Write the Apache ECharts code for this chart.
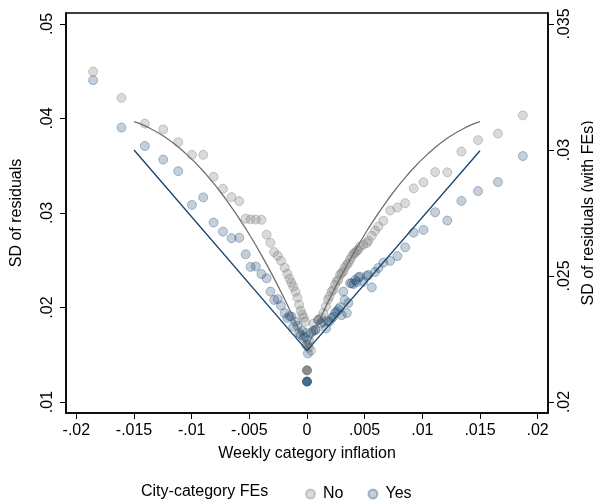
<!DOCTYPE html>
<html>
<head>
<meta charset="utf-8">
<script src="https://cdn.jsdelivr.net/npm/echarts@6/dist/echarts.min.js"></script>
<style>
  html, body { margin: 0; padding: 0; background: #fff; }
  #chart { width: 593px; height: 504px; }
</style>
</head>
<body>
<div id="chart"></div>
<script>
// Binned weekly category inflation
const inflation = [
  -0.01855, -0.01609, -0.01406, -0.01247, -0.01117, -0.00998, -0.00900, -0.00810,
  -0.00729, -0.00654, -0.00588, -0.00532, -0.00489, -0.00443, -0.00395, -0.00350,
  -0.00317, -0.00285, -0.00254, -0.00226, -0.00194, -0.00171, -0.00152, -0.00135,
  -0.00119, -0.00100, -0.00083, -0.00068, -0.00054, -0.00041, -0.00028, -0.00016,
  -0.00006,
  0.00008, 0.00017, 0.00035, 0.00055, 0.00074, 0.00098, 0.00122, 0.00142, 0.00165,
  0.00182, 0.00194, 0.00214, 0.00228, 0.00243, 0.00258, 0.00272, 0.00287, 0.00301,
  0.00315, 0.00326, 0.00345, 0.00359, 0.00373, 0.00388, 0.00404, 0.00417, 0.00431,
  0.00445, 0.00460, 0.00489, 0.00518, 0.00532, 0.00562, 0.00590, 0.00619, 0.00662,
  0.00721, 0.00784, 0.00851, 0.00925, 0.01010, 0.01111, 0.01217, 0.01339, 0.01483,
  0.01656, 0.01872
];
// SD of residuals, no city-category fixed effects (left axis)
const sdNoFE = [
  0.04496, 0.04218, 0.03946, 0.03883, 0.03749, 0.03615, 0.03615, 0.03383,
  0.03256, 0.03168, 0.03126, 0.02939, 0.02933, 0.02931, 0.02928, 0.02770,
  0.02685, 0.02587, 0.02548, 0.02495, 0.02421, 0.02357, 0.02304, 0.02262,
  0.02220, 0.02167, 0.02104, 0.02030, 0.01966, 0.01924, 0.01892, 0.01850,
  0.01734,
  0.01600, 0.01575, 0.01543, 0.01829, 0.01765, 0.01871, 0.01892, 0.01942, 0.02012,
  0.02082, 0.02117, 0.02170, 0.02188, 0.02241, 0.02276, 0.02294, 0.02347, 0.02365,
  0.02382, 0.02421, 0.02452, 0.02470, 0.02505, 0.02540, 0.02569, 0.02579, 0.02600,
  0.02611, 0.02646, 0.02664, 0.02682, 0.02706, 0.02759, 0.02812, 0.02857, 0.02918,
  0.03026, 0.03058, 0.03103, 0.03261, 0.03325, 0.03433, 0.03430, 0.03650, 0.03771,
  0.03840, 0.04033
];
// SD of residuals, with city-category fixed effects (right axis)
const sdWithFE = [
  0.03277, 0.03089, 0.03016, 0.02962, 0.02916, 0.02782, 0.02812, 0.02712,
  0.02676, 0.02650, 0.02652, 0.02586, 0.02536, 0.02538, 0.02508, 0.02491,
  0.02438, 0.02405, 0.02408, 0.02383, 0.02353, 0.02333, 0.02341, 0.02339,
  0.02299, 0.02318, 0.02302, 0.02274, 0.02266, 0.02282, 0.02254, 0.02259,
  0.02226,
  0.02193, 0.02246, 0.02274, 0.02282, 0.02286, 0.02325, 0.02312, 0.02317, 0.02292,
  0.02321, 0.02319, 0.02333, 0.02338, 0.02353, 0.02358, 0.02368, 0.02376, 0.02345,
  0.02438, 0.02405, 0.02353, 0.02393, 0.02471, 0.02471, 0.02468, 0.02484, 0.02476,
  0.02495, 0.02497, 0.02477, 0.02500, 0.02504, 0.02455, 0.02516, 0.02532, 0.02553,
  0.02560, 0.02579, 0.02614, 0.02672, 0.02683, 0.02753, 0.02720, 0.02798, 0.02837,
  0.02873, 0.02976
];
// Zero-inflation bin
const zeroInflation = [0];
const zeroNoFE = [0.01335];
const zeroWithFE = [0.02081];

// Fitted curves (no FEs): left and right branches
const fitNoLeftX = [-0.015, -0.014, -0.01225, -0.0105, -0.00875, -0.007, -0.00525, -0.0035, -0.00175, 0];
const fitNoLeftY = [0.03966, 0.03919, 0.03798, 0.03628, 0.03409, 0.03140, 0.02823, 0.02456, 0.02040, 0.01575];
const fitNoRightX = [0, 0.00175, 0.0035, 0.00525, 0.007, 0.00875, 0.0105, 0.01225, 0.014, 0.015];
const fitNoRightY = [0.01575, 0.02040, 0.02456, 0.02823, 0.03140, 0.03409, 0.03628, 0.03798, 0.03919, 0.03966];
// Linear fit (with FEs)
const fitFEX = [-0.015, 0, 0.015];
const fitFEY = [0.03000, 0.02204, 0.02997];

// Axis ticks
const xTicks = [-0.02, -0.015, -0.01, -0.005, 0, 0.005, 0.01, 0.015, 0.02];
const yLeftTicks = [0.01, 0.02, 0.03, 0.04, 0.05];
const yRightTicks = [0.02, 0.025, 0.03, 0.035];

const FONT = '"Liberation Sans", Arial, sans-serif';
const NAVY = '#1a476f';

function fmt(v) {
  if (Math.abs(v) < 1e-12) return '0';
  const s = String(Math.abs(+v.toFixed(6))).replace(/^0/, '');
  return (v < 0 ? '-' : '') + s;
}
const zip = (xs, ys) => xs.map((x, i) => [x, ys[i]]);

const chart = echarts.init(document.getElementById('chart'), null, { renderer: 'canvas' });

const axisCommon = {
  type: 'value',
  axisLine: { show: true, onZero: false, lineStyle: { color: '#000', width: 1.5 } },
  splitLine: { show: false },
  axisLabel: { color: '#000', fontFamily: FONT, fontSize: 16, formatter: fmt },
  axisTick: { show: true, length: 6, lineStyle: { color: '#000', width: 1 } },
  nameTextStyle: { color: '#000', fontFamily: FONT, fontSize: 16 }
};

const option = {
  animation: false,
  backgroundColor: '#fff',
  textStyle: { fontFamily: FONT },
  grid: {
    left: 66, right: 45, top: 13, bottom: 91,
    outerBoundsMode: 'none', containLabel: false,
    show: true, borderColor: '#000', borderWidth: 1.5, backgroundColor: '#fff'
  },
  xAxis: Object.assign({}, axisCommon, {
    min: -0.0209, max: 0.0209,
    name: 'Weekly category inflation', nameLocation: 'middle', nameGap: 33,
    axisTick: Object.assign({}, axisCommon.axisTick, { customValues: xTicks }),
    axisLabel: Object.assign({}, axisCommon.axisLabel, { customValues: xTicks, margin: 10 })
  }),
  yAxis: [
    Object.assign({}, axisCommon, {
      position: 'left', min: 0.00884, max: 0.05116,
      name: 'SD of residuals', nameLocation: 'middle', nameGap: 41, nameRotate: 90,
      axisTick: Object.assign({}, axisCommon.axisTick, { customValues: yLeftTicks }),
      axisLabel: Object.assign({}, axisCommon.axisLabel, { customValues: yLeftTicks, rotate: 90, margin: 10 })
    }),
    Object.assign({}, axisCommon, {
      position: 'right', min: 0.019563, max: 0.035437,
      name: 'SD of residuals (with FEs)', nameLocation: 'middle', nameGap: 33, nameRotate: 90,
      axisTick: Object.assign({}, axisCommon.axisTick, { customValues: yRightTicks }),
      axisLabel: Object.assign({}, axisCommon.axisLabel, { customValues: yRightTicks, rotate: 90, margin: 9 })
    })
  ],
  legend: {
    left: 300, top: 481,
    itemWidth: 9, itemHeight: 9, itemGap: 24,
    icon: 'circle',
    textStyle: { color: '#000', fontFamily: FONT, fontSize: 16, padding: [0, 0, 0, 3] },
    data: ['No', 'Yes']
  },
  graphic: [{
    type: 'text', left: 141, top: 484,
    style: { text: 'City-category FEs', fill: '#000', font: '16px ' + FONT }
  }],
  series: [
    {
      name: 'No', type: 'scatter', yAxisIndex: 0, symbolSize: 9,
      itemStyle: { color: 'rgba(128,128,128,0.36)', borderColor: 'rgba(110,110,110,0.42)', borderWidth: 1 },
      data: zip(inflation, sdNoFE), z: 2
    },
    {
      name: 'Yes', type: 'scatter', yAxisIndex: 1, symbolSize: 9,
      itemStyle: { color: 'rgba(26,71,111,0.32)', borderColor: 'rgba(26,71,111,0.42)', borderWidth: 1 },
      data: zip(inflation, sdWithFE), z: 2
    },
    {
      type: 'line', yAxisIndex: 0, smooth: true, symbol: 'none', silent: true,
      lineStyle: { color: '#6e6e6e', width: 1.3 }, data: zip(fitNoLeftX, fitNoLeftY), z: 3
    },
    {
      type: 'line', yAxisIndex: 0, smooth: true, symbol: 'none', silent: true,
      lineStyle: { color: '#6e6e6e', width: 1.3 }, data: zip(fitNoRightX, fitNoRightY), z: 3
    },
    {
      type: 'line', yAxisIndex: 1, symbol: 'none', silent: true,
      lineStyle: { color: NAVY, width: 1.4 }, data: zip(fitFEX, fitFEY), z: 3
    },
    {
      type: 'scatter', yAxisIndex: 0, symbolSize: 9, silent: true,
      itemStyle: { color: '#6f6f6f', borderColor: '#6f6f6f' },
      data: zip(zeroInflation, zeroNoFE), z: 4
    },
    {
      type: 'scatter', yAxisIndex: 1, symbolSize: 9, silent: true,
      itemStyle: { color: NAVY, borderColor: NAVY },
      data: zip(zeroInflation, zeroWithFE), z: 4
    }
  ]
};
chart.setOption(option);
</script>
</body>
</html>
